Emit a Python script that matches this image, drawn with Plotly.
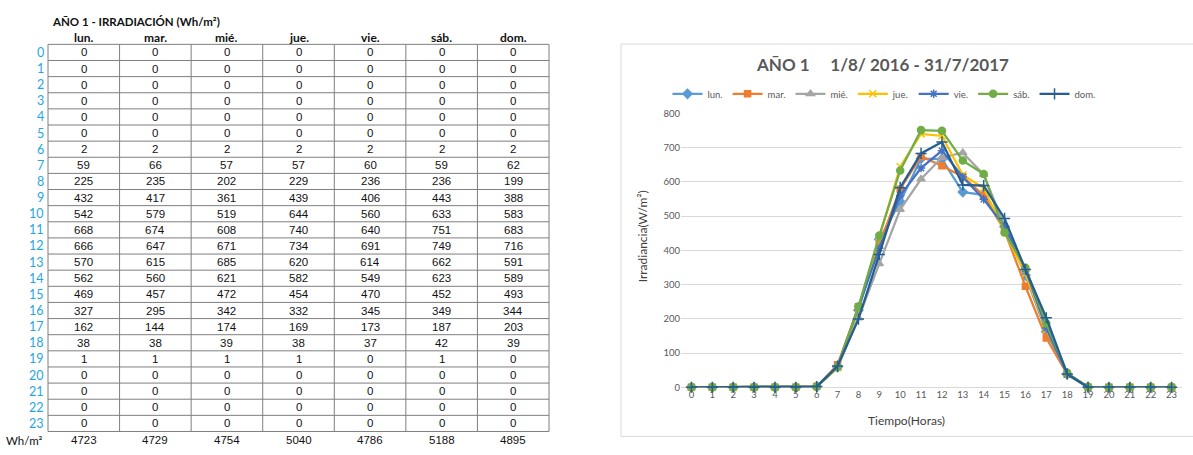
import plotly.graph_objects as go

W, H = 1193, 455

hours = list(range(24))
days = ["lun.", "mar.", "mié.", "jue.", "vie.", "sáb.", "dom."]
lun = [0, 0, 0, 0, 0, 0, 2, 59, 225, 432, 542, 668, 666, 570, 562, 469, 327, 162, 38, 1, 0, 0, 0, 0]
mar = [0, 0, 0, 0, 0, 0, 2, 66, 235, 417, 579, 674, 647, 615, 560, 457, 295, 144, 38, 1, 0, 0, 0, 0]
mie = [0, 0, 0, 0, 0, 0, 2, 57, 202, 361, 519, 608, 671, 685, 621, 472, 342, 174, 39, 1, 0, 0, 0, 0]
jue = [0, 0, 0, 0, 0, 0, 2, 57, 229, 439, 644, 740, 734, 620, 582, 454, 332, 169, 38, 1, 0, 0, 0, 0]
vie = [0, 0, 0, 0, 0, 0, 2, 60, 236, 406, 560, 640, 691, 614, 549, 470, 345, 173, 37, 0, 0, 0, 0, 0]
sab = [0, 0, 0, 0, 0, 0, 2, 59, 236, 443, 633, 751, 749, 662, 623, 452, 349, 187, 42, 1, 0, 0, 0, 0]
dom = [0, 0, 0, 0, 0, 0, 2, 62, 199, 388, 583, 683, 716, 591, 589, 493, 344, 203, 39, 0, 0, 0, 0, 0]
totals = [4723, 4729, 4754, 5040, 4786, 5188, 4895]
series = [lun, mar, mie, jue, vie, sab, dom]

colors = ["#5B9BD5", "#ED7D31", "#A5A5A5", "#FFC000", "#4472C4", "#70AD47", "#255E91"]
symbols = ["diamond", "square", "triangle-up", "x-thin-open", "asterisk-open", "circle", "cross-thin-open"]
msizes = [7, 6, 7, 7, 7, 7, 8]

table_title = "AÑO 1 - IRRADIACIÓN (Wh/m²)"
chart_title = "AÑO 1\u00a0\u00a0\u00a0\u00a0 1/8/ 2016 - 31/7/2017"
ytitle = "Irradiancia(W/m²)"
xtitle = "Tiempo(Horas)"
total_label = "Wh/m²"


def px(x):
    return x / W


def py(y):
    return 1 - y / H


# ---- table geometry (pixels) ----
GRID_L, GRID_R = 48, 549
GRID_T = 39.3
ROW = 16.53
COLW = (GRID_R - GRID_L) / len(days)
GRID_B = GRID_T + ROW * len(hours)
LINE = "#7f7f7f"

shapes = []
annotations = []


def txt(text, x, y, size, color, family, xanchor="center", bold=False):
    annotations.append(dict(
        text=("<b>%s</b>" % text) if bold else text,
        x=px(x), y=py(y), xref="paper", yref="paper",
        xanchor=xanchor, yanchor="middle", showarrow=False,
        font=dict(family=family, size=size, color=color)))


txt(table_title, 50, 16, 11.5, "#111111", "Lato", xanchor="left", bold=True)
for j, d in enumerate(days):
    cx = GRID_L + (j + 0.5) * COLW
    txt(d, cx, 32, 12, "#111111", "Lato", bold=True)
    for i, v in enumerate(series[j]):
        txt(str(v), cx, GRID_T + (i + 0.5) * ROW, 11.5, "#111111", "Liberation Sans")
    txt(str(totals[j]), cx, 445, 11.5, "#111111", "Liberation Sans")
for i, h in enumerate(hours):
    txt(str(h), 45.5, GRID_T + (i + 0.5) * ROW, 12.5, "#1FA6E2", "Lato", xanchor="right")
txt(total_label, 45, 445, 11.5, "#111111", "Lato", xanchor="right")

for k in range(len(hours) + 1):
    yy = GRID_T + k * ROW
    shapes.append(dict(type="line", xref="paper", yref="paper",
                       x0=px(GRID_L), x1=px(GRID_R), y0=py(yy), y1=py(yy),
                       line=dict(color=LINE, width=1)))
for j in range(len(days) + 1):
    xx = GRID_L + j * COLW
    shapes.append(dict(type="line", xref="paper", yref="paper",
                       x0=px(xx), x1=px(xx), y0=py(GRID_T), y1=py(GRID_B),
                       line=dict(color=LINE, width=1)))

# chart frame
shapes.append(dict(type="rect", xref="paper", yref="paper", x0=px(621), x1=px(1210),
                   y0=py(441), y1=py(39), line=dict(color="#D9D9D9", width=1),
                   fillcolor="rgba(0,0,0,0)", layer="below"))

txt(chart_title, 882, 60, 17, "#595959", "Lato", bold=True)
txt(xtitle, 906, 425, 12, "#404040", "Lato")
annotations.append(dict(text=ytitle, x=px(642), y=py(236), xref="paper", yref="paper",
                        xanchor="center", yanchor="middle", textangle=-90, showarrow=False,
                        font=dict(family="Lato", size=12, color="#404040")))

fig = go.Figure()
for name, vals, c, s, ms in zip(days, series, colors, symbols, msizes):
    fig.add_trace(go.Scatter(
        x=hours, y=vals, name=name, mode="lines+markers", cliponaxis=False,
        line=dict(color=c, width=2.25),
        marker=dict(symbol=s, size=ms, color=c, line=dict(color=c, width=1.5)),
    ))

fig.update_layout(
    width=W, height=H,
    margin=dict(l=0, r=0, t=0, b=0),
    paper_bgcolor="white", plot_bgcolor="white",
    font=dict(family="Lato", color="#595959"),
    showlegend=True,
    legend=dict(orientation="h", x=px(884), y=py(90), xanchor="center", yanchor="middle",
                font=dict(family="Lato", size=9.5, color="#595959"),
                itemwidth=30, tracegroupgap=0, bgcolor="rgba(0,0,0,0)"),
    xaxis=dict(domain=[px(681), px(1182)], range=[-0.5, 23.5], tickmode="array",
               tickvals=hours, ticktext=[str(h) for h in hours],
               showgrid=False, zeroline=False, showline=False, ticks="",
               tickfont=dict(family="Lato", size=9.5, color="#595959")),
    yaxis=dict(domain=[py(390.7), py(110)], range=[0, 800], dtick=100,
               showgrid=True, gridcolor="#D9D9D9", gridwidth=1, zeroline=True,
               zerolinecolor="#D9D9D9", zerolinewidth=1, showline=False, ticks="",
               tickfont=dict(family="Lato", size=9.5, color="#595959")),
    shapes=shapes,
    annotations=annotations,
)

fig.write_html(
    "out.html",
    config={"displayModeBar": False},
    post_script="document.body.style.margin='0';document.body.style.overflow='hidden';",
)
